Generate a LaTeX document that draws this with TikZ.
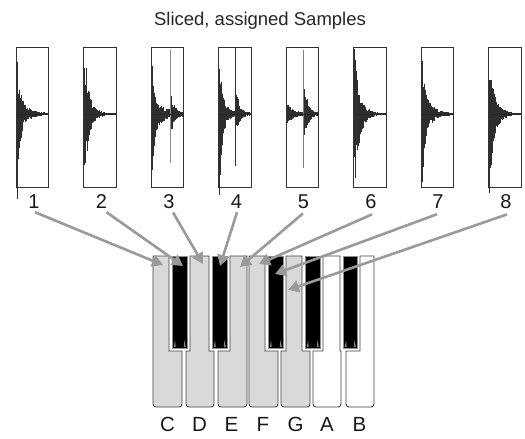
\documentclass[tikz,border=0pt]{standalone}
\usepackage{fontspec}
\setmainfont{Liberation Sans}
\usetikzlibrary{arrows.meta}
\definecolor{keygray}{HTML}{D9D9D9}
\definecolor{arrgray}{HTML}{9A9A9A}
\definecolor{wavecol}{HTML}{2E2E2E}
\newcommand\wv[9]{%
  \pgfmathsetseed{#8}%
  \pgfmathtruncatemacro\wnst{#2*2}%
  \foreach \wi in {0,...,\wnst}{%
    \pgfmathsetmacro\wt{\wi*0.5}%
    \pgfmathsetmacro\wenv{#3*exp(-min(\wt/#5,14))}%
    \pgfmathsetmacro\wenvd{#4*exp(-min(\wt/#5,14))}%
    \pgfmathsetmacro\wtail{#6*exp(-min(\wt/#7,14))}%
    \pgfmathsetmacro\wup{(\wenv+\wtail)*(0.35+0.65*rnd)+0.5}%
    \pgfmathsetmacro\wdn{(\wenvd+\wtail)*(0.35+0.65*rnd)+0.5}%
    \draw[#9,line width=0.55pt] ({#1+\wt},{114-\wup}) -- ({#1+\wt},{114+\wdn});
  }}
\newcommand\wkey[5]{% L R nl nr fill
  \draw[wkeyline,fill=#5] (#2,380) [rounded corners=3pt] -- (#2,407) -- (#1,407) -- (#1,380)
    [sharp corners] -- (#1,351) -- (#3,351) -- (#3,256) -- (#4,256) -- (#4,351) -- (#2,351) -- cycle;}
\newcommand\bkey[2]{% bl br
  \draw[bkeyline] (#1,256) rectangle (#2,348);
  \fill[black!50] ({#1+1.2},347) -- ({#1+2.6},340) -- ({#1+3.2},347) -- cycle;
  \fill[black!50] ({#2-1.2},347) -- ({#2-2.6},340) -- ({#2-3.2},347) -- cycle;}
\begin{document}
\begin{tikzpicture}[x=1pt,y=-1pt,
  sbox/.style={draw=black!80,line width=0.9pt,fill=white},
  wkeyline/.style={draw=black!75,line width=0.9pt},
  bkeyline/.style={fill=black,draw=black!45,line width=0.9pt},
  arr/.style={draw=arrgray,line width=2.6pt,-{Triangle[length=11pt,width=12pt]}},
  numtxt/.style={font=\fontsize{20}{22}\selectfont,inner sep=0pt,anchor=base,text=black!90},
  keytxt/.style={font=\fontsize{20.5}{22}\selectfont,inner sep=0pt,anchor=base,text=black!90},
  ttltxt/.style={font=\fontsize{18.5}{20}\selectfont,inner sep=0pt,anchor=base,text=black!85}]
\useasboundingbox (0,0) rectangle (525,439);
\fill[white] (0,0) rectangle (525,439);
% title
\node[ttltxt] (title) at (260,25) {Sliced, assigned Samples};
% sample boxes
\foreach \k/\x in {1/16,2/83.5,3/151,4/218.5,5/286,6/353.5,7/421,8/488.5}{
  \draw[sbox] (\x,47) rectangle ({\x+32.5},187);
}
% waveforms
\wv{17}{31}{44}{66}{2.2}{22}{9}{11}{wavecol}
\wv{84.5}{31}{52}{66}{2.5}{30}{6.5}{22}{wavecol}
\wv{152}{31}{34}{61}{2}{14}{16}{33}{wavecol}
\wv{170}{13}{28}{20}{2}{10}{7}{34}{wavecol}
\draw[black!45,line width=0.8pt] (170.5,50) -- (170.5,163);
\wv{219.5}{31}{34}{61}{2.4}{24}{6}{44}{wavecol}
\wv{235}{15}{24}{18}{2.5}{12}{6}{45}{wavecol}
\draw[wavecol,line width=0.8pt] (235.5,48) -- (235.5,166);
\wv{287}{31}{8}{8}{2}{7}{10}{55}{wavecol}
\wv{303}{15}{34}{22}{3}{12}{6}{56}{wavecol}
\draw[black!50,line width=0.8pt] (303.5,50) -- (303.5,168);
\wv{354.5}{31}{39}{61}{3.5}{28}{7}{66}{wavecol}
\wv{422}{31}{46}{66}{2.2}{24}{9}{77}{wavecol}
\wv{489.5}{31}{39}{61}{3.5}{26}{7}{88}{wavecol}
\foreach \x in {16,83.5,151,218.5,286,353.5,421,488.5}{
  \draw[black!85,line width=0.5pt] ({\x+1},114) -- ({\x+32},114);
}
% numbers
\node[numtxt] (n1) at (34,208) {1};
\node[numtxt] (n2) at (101.5,208) {2};
\node[numtxt] (n3) at (169,208) {3};
\node[numtxt] (n4) at (236.5,208) {4};
\node[numtxt] (n5) at (303.5,208) {5};
\node[numtxt] (n6) at (371,208) {6};
\node[numtxt] (n7) at (438,208) {7};
\node[numtxt] (n8) at (506,208) {8};
% keyboard: white keys
\wkey{153}{182}{153}{169}{keygray}
\wkey{186}{214}{190}{209}{keygray}
\wkey{218}{247}{230}{247}{keygray}
\wkey{249}{278}{249}{265}{keygray}
\wkey{281}{310}{286}{302}{keygray}
\wkey{313}{341}{323}{340}{white}
\wkey{346}{374}{360}{374}{white}
% black keys
\bkey{172.5}{187}
\bkey{212.5}{227}
\bkey{268.5}{283}
\bkey{305.5}{320}
\bkey{343.5}{357}
% key letters
\node[keytxt] (kC) at (167.5,431) {C};
\node[keytxt] (kD) at (199.5,431) {D};
\node[keytxt] (kE) at (231.5,431) {E};
\node[keytxt] (kF) at (263,431) {F};
\node[keytxt] (kG) at (295.5,431) {G};
\node[keytxt] (kA) at (327,431) {A};
\node[keytxt] (kB) at (359.5,431) {B};
% arrow targets
\coordinate (t1) at (163,265);
\coordinate (t2) at (183,266);
\coordinate (t3) at (203,264);
\coordinate (t4) at (220,266);
\coordinate (t5) at (240,267);
\coordinate (t6) at (259,264);
\coordinate (t7) at (275,274);
\coordinate (t8) at (288,290);
% arrows
\draw[arr] ([xshift=1pt,yshift=-4pt]n1.south) -- (t1);
\draw[arr] ([xshift=5pt,yshift=-4pt]n2.south) -- (t2);
\draw[arr] ([xshift=4pt,yshift=-4pt]n3.south) -- (t3);
\draw[arr] ([xshift=0.5pt,yshift=-4pt]n4.south) -- (t4);
\draw[arr] ([xshift=-0.5pt,yshift=-5pt]n5.south) -- (t5);
\draw[arr] ([xshift=1pt,yshift=-6pt]n6.south) -- (t6);
\draw[arr] ([xshift=-1pt,yshift=-6pt]n7.south) -- (t7);
\draw[arr] ([xshift=1pt,yshift=-6pt]n8.south) -- (t8);
\end{tikzpicture}
\end{document}
